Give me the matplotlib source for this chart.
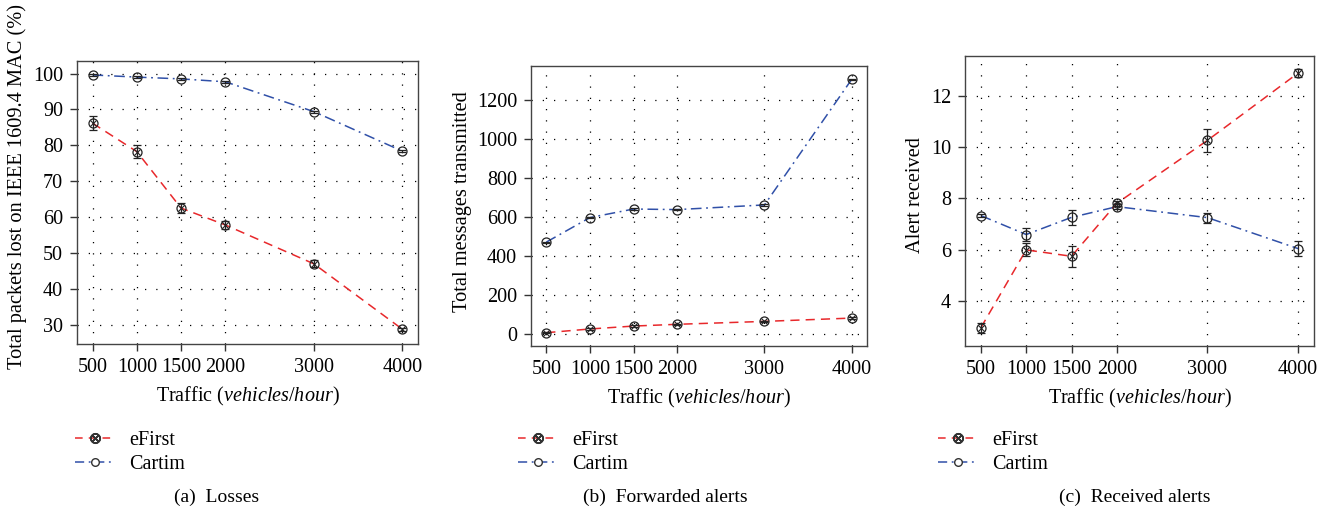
import matplotlib
matplotlib.use("Agg")
import matplotlib.pyplot as plt
from matplotlib.lines import Line2D

plt.rcParams['font.family'] = ['Liberation Serif', 'DejaVu Serif']
plt.rcParams['mathtext.fontset'] = 'custom'
plt.rcParams['mathtext.it'] = 'Liberation Serif:italic'
plt.rcParams['mathtext.rm'] = 'Liberation Serif'

# ---------------------------------------------------------------------------- #
# data

traffic = [500, 1000, 1500, 2000, 3000, 4000]

loss_efirst     = [86.2, 78.3, 62.6, 57.9, 47.1, 28.9]
loss_efirst_err = [1.9, 1.8, 1.5, 1.0, 1.0, 0.5]
loss_cartim     = [99.6, 99.0, 98.5, 97.7, 89.4, 78.4]
loss_cartim_err = [0.3, 0.3, 0.3, 0.3, 0.3, 0.3]

fwd_efirst      = [5, 24, 39, 48, 63, 80]
fwd_efirst_err  = [3, 3, 3, 3, 3, 3]
fwd_cartim      = [470, 596, 640, 637, 661, 1306]
fwd_cartim_err  = [3, 3, 3, 3, 3, 3]

rcv_efirst      = [2.95, 5.99, 5.74, 7.81, 10.27, 12.9]
rcv_efirst_err  = [0.2, 0.25, 0.4, 0.1, 0.45, 0.15]
rcv_cartim      = [7.33, 6.59, 7.26, 7.68, 7.25, 6.04]
rcv_cartim_err  = [0.05, 0.25, 0.3, 0.1, 0.2, 0.3]

ylabels  = ["Total packets lost on IEEE 1609.4 MAC (%)",
            "Total messages transmitted",
            "Alert received"]
captions = ["(a)  Losses", "(b)  Forwarded alerts", "(c)  Received alerts"]
yticks   = [range(30, 101, 10), range(0, 1201, 200), range(4, 13, 2)]

RED  = "#e8282b"
BLUE = "#3050a8"

# ---------------------------------------------------------------------------- #
# figure

fig = plt.figure(figsize=(13.34, 5.13), dpi=100)

W, H = 1334, 513
boxes = [(77, 61, 418, 344), (531, 66, 867, 346), (965, 56, 1314, 346)]   # px: l, t, r, b
legend_x  = [75, 518, 938]
caption_x = [217, 665, 1135]
ylabel_x  = [17, 463, 915]
ylabel_y  = [187, 202, 195]

panels = [
    (loss_efirst, loss_efirst_err, loss_cartim, loss_cartim_err),
    (fwd_efirst,  fwd_efirst_err,  fwd_cartim,  fwd_cartim_err),
    (rcv_efirst,  rcv_efirst_err,  rcv_cartim,  rcv_cartim_err),
]

for i, (ef, efe, ca, cae) in enumerate(panels):
    l, t, r, b = boxes[i]
    ax = fig.add_axes([l / W, 1 - b / H, (r - l) / W, (b - t) / H])

    ax.plot(traffic, ca, color=BLUE, lw=1.1, dashes=(7, 3, 1.2, 3))
    ax.plot(traffic, ef, color=RED, lw=1.1, dashes=(6, 4))

    ax.errorbar(traffic, ca, yerr=cae, fmt='o', ms=6.5, mfc='none', mec='#222222',
                mew=0.9, ecolor='#222222', elinewidth=0.9, capsize=3, capthick=0.9)
    ax.errorbar(traffic, ef, yerr=efe, fmt='o', ms=6.5, mfc='none', mec='#222222',
                mew=0.9, ecolor='#222222', elinewidth=0.9, capsize=3, capthick=0.9)
    ax.plot(traffic, ef, 'x', ms=4.5, mec='#222222', mew=0.8, ls='none')

    ax.set_xticks(traffic)
    ax.set_yticks(list(yticks[i]))
    ax.grid(True, color='black', lw=0.9, linestyle=(0, (1, 8)))
    ax.tick_params(direction='out', length=5, width=1, labelsize=14.5,
                   color='#333333', pad=5)
    for s in ax.spines.values():
        s.set_color('#444444')
        s.set_linewidth(1.0)

    ax.set_xlabel("Traffic ($\\mathit{vehicles/hour}$)", fontsize=14.5, labelpad=6)
    fig.text(ylabel_x[i] / W, 1 - ylabel_y[i] / H, ylabels[i],
             rotation=90, fontsize=14.7, ha='center', va='center')

    handles = [
        Line2D([], [], color=RED, lw=1.1, dashes=(5, 4), marker='$\\otimes$',
               ms=7, mec='#333333', mfc='#333333'),
        Line2D([], [], color=BLUE, lw=1.1, dashes=(6, 3, 1.2, 3), marker='o',
               ms=5.5, mfc='white', mec='#333333'),
    ]
    fig.legend(handles, ["eFirst", "Cartim"], loc='upper left',
               bbox_to_anchor=(legend_x[i] / W, 1 - 431 / H), frameon=False,
               fontsize=14.5, handlelength=2.0, handletextpad=0.7,
               labelspacing=0.25, borderpad=0, borderaxespad=0)

    fig.text(caption_x[i] / W, 1 - 497 / H, captions[i], fontsize=14,
             ha='center', va='center')

fig.savefig("out.png", dpi=100)
